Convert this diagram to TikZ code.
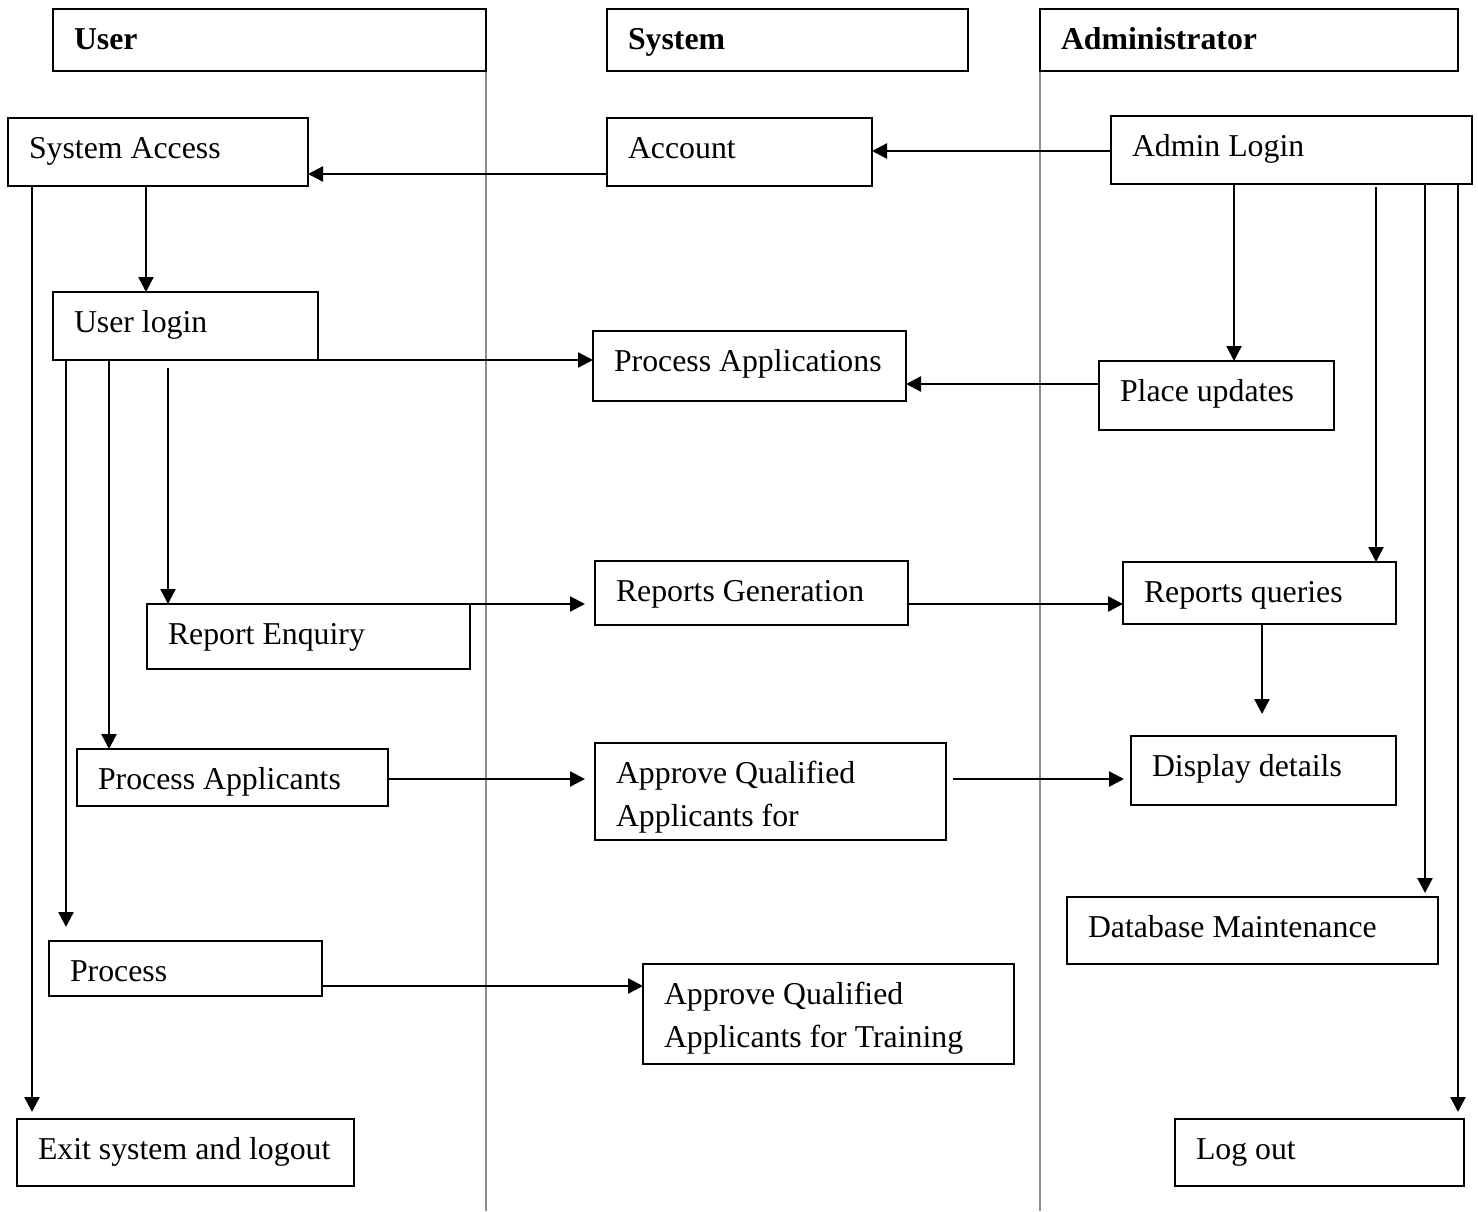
\documentclass[tikz,border=0pt]{standalone}
\usepackage{fontspec}
\setmainfont{Liberation Serif}
\usetikzlibrary{arrows.meta}

\tikzset{
  box/.style={draw=black, line width=2pt, rectangle, inner sep=0pt, outer sep=0pt, fill=white},
  txt/.style={inner sep=0pt, outer sep=0pt, font=\fontsize{31.8}{43}\selectfont},
  hdr/.style={txt, font=\fontsize{31.8}{43}\selectfont\bfseries},
  arr/.style={draw=black, line width=2.4pt, -{Triangle[length=15pt,width=15pt]}},
  lane/.style={draw=black!45, line width=1.6pt},
}

% box: name, left, top, right, bottom, text style, text
\newcommand{\actbox}[7]{%
  \node[box, anchor=north west, minimum width=#4-#2, minimum height=#5-#3] (#1) at (#2,#3) {};
  \node[#6, anchor=base west] (#1-t) at ([xshift=21,yshift=-40]#1.north west) {#7};%
}

\begin{document}
\begin{tikzpicture}[x=1pt,y=-1pt]
\useasboundingbox (0,0) rectangle (1478,1211);

% swimlane separators
\draw[lane] (486,9) -- (486,1211);
\draw[lane] (1040,9) -- (1040,1211);

% lane headers
\actbox{hu}{53}{9}{486}{71}{hdr}{User}
\actbox{hs}{607}{9}{968}{71}{hdr}{System}
\actbox{ha}{1040}{9}{1458}{71}{hdr}{Administrator}

% activities
\actbox{sa}{8}{118}{308}{186}{txt}{System Access}
\actbox{acc}{607}{118}{872}{186}{txt}{Account}
\actbox{al}{1111}{116}{1472}{184}{txt}{Admin Login}
\actbox{ul}{53}{292}{318}{360}{txt}{User login}
\actbox{pa}{593}{331}{906}{401}{txt}{Process Applications}
\actbox{pu}{1099}{361}{1334}{430}{txt}{Place updates}
\actbox{re}{147}{604}{470}{669}{txt}{Report Enquiry}
\actbox{rg}{595}{561}{908}{625}{txt}{Reports Generation}
\actbox{rq}{1123}{562}{1396}{624}{txt}{Reports queries}
\actbox{pap}{77}{749}{388}{806}{txt}{Process Applicants}
\actbox{aq}{595}{743}{946}{840}{txt}{\begin{tabular}[t]{@{}l@{}}Approve Qualified\\Applicants for\end{tabular}}
\actbox{dd}{1131}{736}{1396}{805}{txt}{Display details}
\actbox{db}{1067}{897}{1438}{964}{txt}{Database Maintenance}
\actbox{pr}{49}{941}{322}{996}{txt}{Process}
\actbox{at}{643}{964}{1014}{1064}{txt}{\begin{tabular}[t]{@{}l@{}}Approve Qualified\\Applicants for Training\end{tabular}}
\actbox{ex}{17}{1119}{354}{1186}{txt}{Exit system and logout}
\actbox{lo}{1175}{1119}{1464}{1186}{txt}{Log out}

% flows
\draw[arr] (acc.west |- 0,174) -- (sa.east |- 0,174);
\draw[arr] (al.west |- 0,151) -- (acc.east |- 0,151);
\draw[arr] (sa.south -| 146,0) -- (ul.north -| 146,0);
\draw[arr] (sa.south -| 32,0) -- ([yshift=7]ex.north -| 32,0);
\draw[arr] ([xshift=-10]ul.south east) -- (pa.west |- ul.south east);
\draw[arr] ([yshift=-8]ul.south -| 168,0) -- (re.north -| 168,0);
\draw[arr] (ul.south -| 109,0) -- (pap.north -| 109,0);
\draw[arr] (ul.south -| 66,0) -- ([yshift=14]pr.north -| 66,0);
\draw[arr] (re.north -| 418,0) -- ([xshift=-10]rg.west |- re.north);
\draw[arr] (rg.east |- 0,604) -- (rq.west |- 0,604);
\draw[arr] (pap.east |- 0,779) -- ([xshift=-10]aq.west |- 0,779);
\draw[arr] ([xshift=7]aq.east |- 0,779) -- ([xshift=-7]dd.west |- 0,779);
\draw[arr] (pr.east |- 0,986) -- (at.west |- 0,986);
\draw[arr] (pu.west |- 0,384) -- (pa.east |- 0,384);
\draw[arr] (al.south -| 1234,0) -- (pu.north -| 1234,0);
\draw[arr] ([yshift=-3]al.south -| 1376,0) -- (rq.north -| 1376,0);
\draw[arr] (al.south -| 1425,0) -- ([yshift=4]db.north -| 1425,0);
\draw[arr] (al.south -| 1458,0) -- ([yshift=7]lo.north -| 1458,0);
\draw[arr] (rq.south -| 1262,0) -- ([yshift=22]dd.north -| 1262,0);
\end{tikzpicture}
\end{document}
